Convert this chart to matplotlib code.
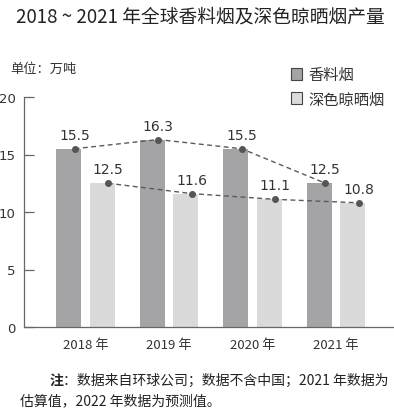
import matplotlib
matplotlib.use('Agg')
import matplotlib.pyplot as plt
import numpy as np

plt.rcParams['font.family'] = ['Noto Sans CJK SC', 'DejaVu Sans']

years = ['2018 年', '2019 年', '2020 年', '2021 年']
oriental = [15.5, 16.3, 15.5, 12.5]
dark_air = [12.5, 11.6, 11.1, 10.8]
names = ['香料烟', '深色晾晒烟']

c_dark = '#a4a4a6'
c_light = '#dadadb'
c_text = '#333333'
c_axis = '#666666'

fig = plt.figure(figsize=(3.94, 4.10), dpi=100)
W, H = 394, 410
ax = fig.add_axes([24 / W, (H - 328) / H, (393 - 24) / W, 230 / H])

x = np.arange(len(years))
w = 0.3
off = 0.2
b1 = ax.bar(x - off, oriental, w, color=c_dark, label=names[0])
b2 = ax.bar(x + off, dark_air, w, color=c_light, label=names[1])

# dots and dashed trend lines, slightly right of bar centers like the original
for xs, vals in [(x - off + 0.07, oriental), (x + off + 0.07, dark_air)]:
    ax.plot(xs, vals, ls=(0, (3.5, 2.5)), color='#5a5a5a', lw=1.0,
            marker='o', ms=4, mfc='#555555', mec='#555555')
    for xi, v in zip(xs, vals):
        ax.annotate(f'{v}', (xi, v), xytext=(0, 5), textcoords='offset points',
                    ha='center', va='bottom', fontsize=10, color=c_text,
                    family=['DejaVu Sans'])

ax.set_xlim(-0.735, 3.68)
ax.set_ylim(0, 20)
ax.set_yticks([0, 5, 10, 15, 20])
ax.set_xticks(x)
ax.set_xticklabels(years, fontsize=9.5, color=c_text)
ax.tick_params(axis='x', length=0, pad=8)
ax.tick_params(axis='y', direction='in', length=7, width=0.9, color=c_axis,
               labelsize=9.5, labelcolor=c_text, pad=6)
for lab in ax.get_yticklabels():
    lab.set_family(['DejaVu Sans'])
for s in ['top', 'right']:
    ax.spines[s].set_visible(False)
for s in ['left', 'bottom']:
    ax.spines[s].set_color(c_axis)
    ax.spines[s].set_linewidth(0.9)

leg = ax.legend(handles=[b1, b2], loc='upper left',
                bbox_to_anchor=(291 / W, (H - 67) / H),
                bbox_transform=fig.transFigure, frameon=False,
                fontsize=11, handlelength=0.72, handleheight=0.8,
                handletextpad=0.4, labelspacing=0.5, borderpad=0,
                borderaxespad=0)
for h in leg.legend_handles:
    h.set_edgecolor('#444444')
    h.set_linewidth(0.8)
for t in leg.get_texts():
    t.set_color(c_text)

fig.text(200 / W, (H - 17) / H, '2018 ~ 2021 年全球香料烟及深色晾晒烟产量',
         ha='center', va='center', fontsize=13.5, color='#222222',
         fontweight='medium')
fig.text(10 / W, (H - 69) / H, '单位：万吨', ha='left', va='center',
         fontsize=9.5, color=c_text)

fig.text(50 / W, (H - 381) / H, '注', ha='left', va='center', fontsize=10,
         color='#222222', fontweight='bold')
fig.text(63 / W, (H - 381) / H, '：数据来自环球公司；数据不含中国；2021 年数据为',
         ha='left', va='center', fontsize=10, color='#222222')
fig.text(20 / W, (H - 401) / H, '估算值，2022 年数据为预测值。',
         ha='left', va='center', fontsize=10, color='#222222')

fig.savefig('out.png', dpi=100)
